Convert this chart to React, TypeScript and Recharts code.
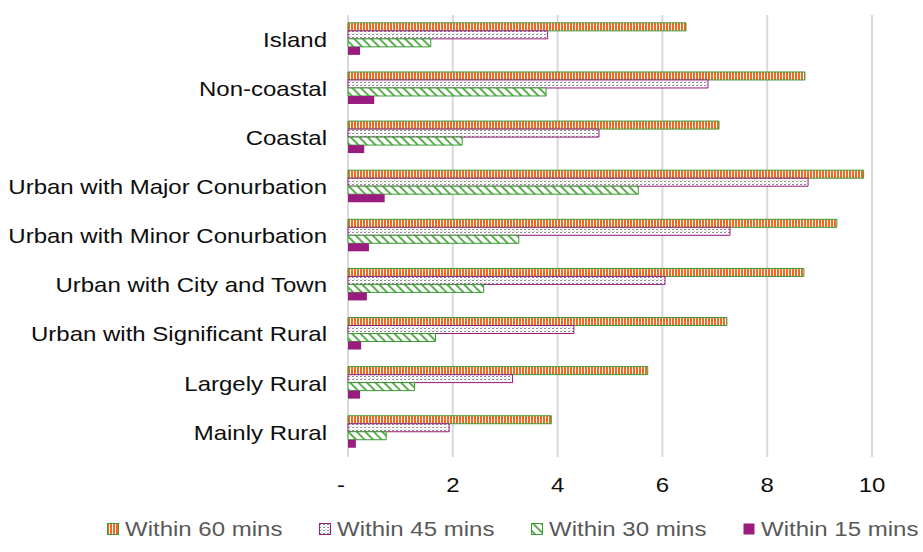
import React from 'react';
import { BarChart, Bar, XAxis, YAxis, CartesianGrid, Legend } from 'recharts';

const categories = [
  'Island',
  'Non-coastal',
  'Coastal',
  'Urban with Major Conurbation',
  'Urban with Minor Conurbation',
  'Urban with City and Town',
  'Urban with Significant Rural',
  'Largely Rural',
  'Mainly Rural',
];
const within60 = [6.45, 8.72, 7.08, 9.84, 9.33, 8.7, 7.23, 5.72, 3.88];
const within45 = [3.81, 6.87, 4.79, 8.78, 7.29, 6.05, 4.31, 3.14, 1.93];
const within30 = [1.58, 3.78, 2.18, 5.54, 3.26, 2.59, 1.67, 1.27, 0.73];
const within15 = [0.23, 0.5, 0.31, 0.7, 0.4, 0.36, 0.25, 0.23, 0.15];
const xTicks = [0, 2, 4, 6, 8, 10];

const data = categories.map((name, i) => ({
  name,
  w60: within60[i],
  w45: within45[i],
  w30: within30[i],
  w15: within15[i],
}));

const series = [
  { key: 'w60', label: 'Within 60 mins', fill: 'url(#p60)', stroke: '#3a9a34' },
  { key: 'w45', label: 'Within 45 mins', fill: 'url(#p45)', stroke: '#9a1c7e' },
  { key: 'w30', label: 'Within 30 mins', fill: 'url(#p30)', stroke: '#3a9a34' },
  { key: 'w15', label: 'Within 15 mins', fill: '#9a1c7e', stroke: 'none' },
];

const FONT = '"Liberation Sans", Arial, sans-serif';

// text in the original is a bit wider than plain Arial, stretch horizontally
const YTick = (props: any) => {
  const { x, y, payload } = props;
  return (
    <text
      transform={`translate(${x},${y}) scale(1.2,1)`}
      textAnchor="end"
      dy="0.36em"
      fontSize={20}
      fontFamily={FONT}
      fill="#0d0d0d"
    >
      {payload.value}
    </text>
  );
};

const XTick = (props: any) => {
  const { x, y, payload } = props;
  const zero = payload.value === 0;
  return (
    <text
      transform={`translate(${x + (zero ? -7 : 0)},${y}) scale(1.2,1)`}
      textAnchor="middle"
      dy={35}
      fontSize={20}
      fontFamily={FONT}
      fill="#0d0d0d"
    >
      {zero ? '-' : payload.value}
    </text>
  );
};

const LegendContent = () => (
  <div
    style={{
      height: 50,
      display: 'flex',
      paddingLeft: 107,
      paddingTop: 20,
      boxSizing: 'border-box',
      fontFamily: FONT,
      fontSize: 20,
      color: '#595959',
    }}
  >
    {series.map((s) => (
      <div
        key={s.key}
        style={{ width: 212, flexShrink: 0, display: 'flex', alignItems: 'center', height: 24 }}
      >
        <svg width={12} height={12} style={{ marginRight: 6, flexShrink: 0 }}>
          <rect
            x={0.5}
            y={0.5}
            width={11}
            height={11}
            fill={s.fill}
            stroke={s.stroke}
            strokeWidth={1}
          />
        </svg>
        <span style={{ display: 'inline-block', transform: 'scaleX(1.2)', transformOrigin: 'left', whiteSpace: 'nowrap' }}>
          {s.label}
        </span>
      </div>
    ))}
  </div>
);

export default function App() {
  return (
    <div style={{ position: 'absolute', left: 0, top: 0, background: '#fff' }}>
      <svg width={0} height={0} style={{ position: 'absolute' }}>
        <defs>
          <pattern id="p60" width={3} height={4} patternUnits="userSpaceOnUse">
            <rect width={3} height={4} fill="#fff" />
            <rect width={2} height={4} fill="#f26a1f" />
          </pattern>
          <pattern id="p45" width={4} height={3} patternUnits="userSpaceOnUse">
            <rect width={4} height={3} fill="#fff" />
            <rect x={0} y={1} width={2} height={1} fill="#8c8c8c" />
            <rect x={2} y={0} width={1} height={1} fill="#c8c8c8" />
          </pattern>
          <pattern id="p30" width={6} height={6} patternUnits="userSpaceOnUse" patternTransform="rotate(-45)">
            <rect width={6} height={6} fill="#fff" />
            <rect width={2} height={6} fill="#5cb04f" />
          </pattern>
        </defs>
      </svg>
      <BarChart
        width={923}
        height={552}
        data={data}
        layout="vertical"
        margin={{ top: 15, right: 51, left: 0, bottom: 5 }}
        barCategoryGap="16%"
        barGap={0}
      >
        <CartesianGrid horizontal={false} stroke="#d9d9d9" strokeWidth={2} />
        <XAxis
          type="number"
          domain={[0, 10]}
          ticks={xTicks}
          axisLine={false}
          tickLine={false}
          tickSize={0}
          tickMargin={0}
          height={40}
          tick={<XTick />}
          interval={0}
        />
        <YAxis
          type="category"
          dataKey="name"
          width={348}
          axisLine={false}
          tickLine={false}
          tickSize={0}
          tickMargin={21}
          tick={<YTick />}
          interval={0}
        />
        <Legend
          verticalAlign="bottom"
          content={<LegendContent />}
          wrapperStyle={{ left: 0, width: 923, height: 50 }}
        />
        {series.map((s) => (
          <Bar
            key={s.key}
            dataKey={s.key}
            name={s.label}
            fill={s.fill}
            stroke={s.stroke}
            strokeWidth={1}
            isAnimationActive={false}
          />
        ))}
      </BarChart>
    </div>
  );
}
